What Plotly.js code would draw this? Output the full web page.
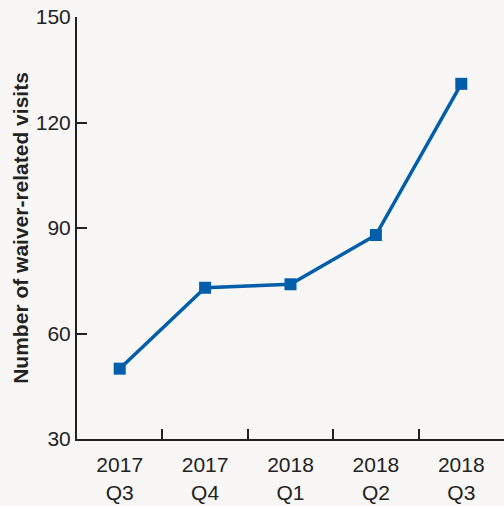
<!DOCTYPE html>
<html><head><meta charset="utf-8">
<script src="https://cdn.plot.ly/plotly-3.0.1.min.js"></script>
<style>html,body{margin:0;padding:0;background:#f8f7f6;}</style>
</head><body>
<div id="chart" style="width:504px;height:506px;"></div>
<script>
var quarters = ["2017<br>Q3", "2017<br>Q4", "2018<br>Q1", "2018<br>Q2", "2018<br>Q3"];
var visits = [50, 73, 74, 88, 131];
var yTicks = [30, 60, 90, 120, 150];

var trace = {
  x: quarters, y: visits, type: 'scatter', mode: 'lines+markers',
  line: {color: '#005eaa', width: 3.5},
  marker: {symbol: 'square', size: 12, color: '#005eaa'},
  hoverinfo: 'skip'
};
var layout = {
  width: 504, height: 506,
  paper_bgcolor: '#f8f7f6', plot_bgcolor: '#f8f7f6',
  margin: {l: 77, r: 0, t: 17, b: 67},
  showlegend: false,
  font: {family: 'Liberation Sans, Arial, sans-serif', color: '#222', size: 21},
  xaxis: {
    type: 'category', range: [-0.5, 4.5], tickson: 'boundaries',
    ticks: 'inside', ticklen: 10, tickwidth: 2, tickcolor: '#222',
    showline: true, linecolor: '#222', linewidth: 2, showgrid: false, zeroline: false,
    tickfont: {size: 21, color: '#222'}, ticklabelstandoff: 6, fixedrange: true
  },
  yaxis: {
    range: [30, 150], tickvals: yTicks, ticktext: yTicks.map(String),
    ticks: 'inside', ticklen: 10, tickwidth: 2, tickcolor: '#222',
    showline: true, linecolor: '#222', linewidth: 2, showgrid: false, zeroline: false,
    tickfont: {size: 21, color: '#222'},
    title: {text: 'Number of waiver-related visits', font: {size: 21, color: '#222', weight: 'bold'}, standoff: 1}
  }
};
Plotly.newPlot('chart', [trace], layout, {displayModeBar: false, staticPlot: true});
</script>
</body></html>
